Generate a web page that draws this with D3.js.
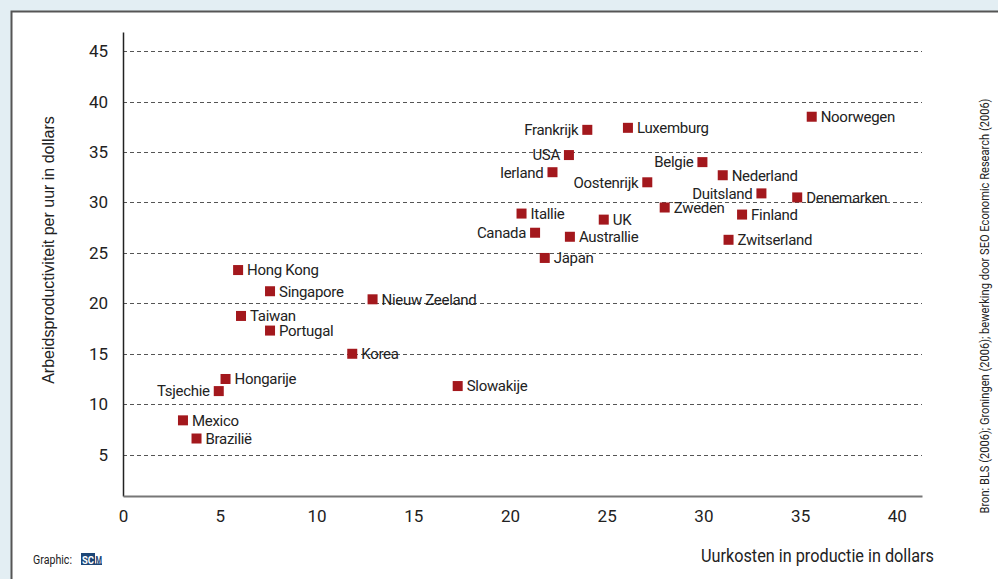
<!DOCTYPE html>
<html><head><meta charset="utf-8">
<script src="https://cdn.jsdelivr.net/npm/d3@7"></script>
<style>
html,body{margin:0;padding:0;background:#e3eef3;}
svg{display:block;}
</style></head>
<body>
<svg id="c" width="998" height="579"></svg>
<script>
const countries = ["Noorwegen","Luxemburg","Frankrijk","USA","Ierland","Belgie","Nederland","Oostenrijk","Duitsland","Denemarken","Zweden","Itallie","UK","Finland","Canada","Australlie","Zwitserland","Japan","Hong Kong","Singapore","Nieuw Zeeland","Taiwan","Portugal","Korea","Hongarije","Tsjechie","Slowakije","Mexico","Brazilië"];
const laborCost = [35.6,26.1,24.0,23.05,22.2,29.95,31.0,27.1,33.0,34.85,28.0,20.6,24.85,32.0,21.3,23.1,31.3,21.8,5.95,7.6,12.9,6.1,7.6,11.85,5.3,4.95,17.3,3.1,3.8];
const productivity = [38.5,37.4,37.2,34.7,33.0,34.0,32.7,32.0,30.9,30.5,29.5,28.9,28.3,28.8,27.0,26.6,26.3,24.5,23.3,21.2,20.4,18.75,17.3,15.0,12.5,11.3,11.8,8.4,6.6];
const labelLeft = ["Frankrijk","USA","Ierland","Belgie","Oostenrijk","Duitsland","Canada","Tsjechie"];
const xTicks = [0,5,10,15,20,25,30,35,40];
const yTicks = [5,10,15,20,25,30,35,40,45];
const xTitle = "Uurkosten in productie in dollars";
const yTitle = "Arbeidsproductiviteit per uur in dollars";
const sourceText = "Bron: BLS (2006); Groningen (2006); bewerking door SEO Economic Research (2006)";

const svg = d3.select("#c");
const W = 998, H = 579;
const font = 'Roboto, "Liberation Sans", sans-serif';

// panel
svg.append("rect").attr("x",11.5).attr("y",11.5).attr("width",W).attr("height",H)
  .attr("fill","#fff").attr("stroke","#555").attr("stroke-width",2);

const x = d3.scaleLinear().domain([0,41.3]).range([123,922]);
const y = d3.scaleLinear().domain([0.9,46.9]).range([496,32]);

// gridlines
svg.append("g").selectAll("line").data(yTicks).join("line")
  .attr("x1",x(0)).attr("x2",x.range()[1])
  .attr("y1",d=>Math.round(y(d))+0.5).attr("y2",d=>Math.round(y(d))+0.5)
  .attr("stroke","#555").attr("stroke-width",1).attr("stroke-dasharray","4,3");

// y axis
const ya = d3.axisLeft(y).tickValues(yTicks).tickSize(0).tickPadding(15);
const gy = svg.append("g").attr("transform",`translate(${x(0)},0)`).call(ya);
gy.select(".domain").attr("stroke","#222").attr("stroke-width",1.5);
gy.selectAll("text").attr("font-family",font).attr("font-size",17).attr("fill","#222");

// x axis
const xa = d3.axisBottom(x).tickValues(xTicks).tickSize(0).tickPadding(14);
const gx = svg.append("g").attr("transform",`translate(0,${y.range()[0]})`).call(xa);
gx.select(".domain").attr("stroke","#777").attr("stroke-width",2);
gx.selectAll("text").attr("font-family",font).attr("font-size",17).attr("fill","#222");

// titles
svg.append("text").attr("transform",`translate(54,250) rotate(-90)`).attr("text-anchor","middle")
  .attr("font-family","Liberation Sans, Arial, sans-serif").attr("font-size",16).attr("fill","#222").text(yTitle);
svg.append("text").attr("x",934).attr("y",562).attr("text-anchor","end")
  .attr("font-family",font).attr("font-size",18).attr("fill","#222")
  .attr("textLength",233).attr("lengthAdjust","spacingAndGlyphs").text(xTitle);
svg.append("text").attr("transform",`translate(989,306) rotate(-90)`).attr("text-anchor","middle")
  .attr("font-family",font).attr("font-size",12.5).attr("fill","#222")
  .attr("textLength",415).attr("lengthAdjust","spacingAndGlyphs").text(sourceText);

// graphic credit
svg.append("text").attr("x",33).attr("y",564).attr("font-family",font).attr("font-size",12.5).attr("fill","#222")
  .attr("textLength",39).attr("lengthAdjust","spacingAndGlyphs").text("Graphic:");
svg.append("rect").attr("x",81).attr("y",553).attr("width",14).attr("height",12).attr("fill","#1d4677");
svg.append("text").attr("x",88).attr("y",563.5).attr("text-anchor","middle").attr("font-family",font)
  .attr("font-weight","bold").attr("font-size",11).attr("fill","#fff")
  .attr("textLength",12).attr("lengthAdjust","spacingAndGlyphs").text("SC");
svg.append("text").attr("x",95.5).attr("y",563.5).attr("font-family",font)
  .attr("font-weight","bold").attr("font-size",11).attr("fill","#1d4677")
  .attr("textLength",6.5).attr("lengthAdjust","spacingAndGlyphs").text("M");
svg.append("rect").attr("x",95).attr("y",563.5).attr("width",7).attr("height",1.5).attr("fill","#1d4677");

// points
const data = countries.map((c,i)=>({c,x:laborCost[i],y:productivity[i]}));
const g = svg.append("g");
g.selectAll("rect").data(data).join("rect")
  .attr("x",d=>x(d.x)-5).attr("y",d=>y(d.y)-5).attr("width",10).attr("height",10).attr("fill","#a3181d");
g.selectAll("text").data(data).join("text")
  .attr("x",d=>labelLeft.includes(d.c)? x(d.x)-9 : x(d.x)+9)
  .attr("y",d=>y(d.y)+5.3)
  .attr("text-anchor",d=>labelLeft.includes(d.c)?"end":"start")
  .attr("font-family",font).attr("font-size",15).attr("letter-spacing","-0.3px")
  .attr("fill","#222").text(d=>d.c);
</script>
</body></html>
